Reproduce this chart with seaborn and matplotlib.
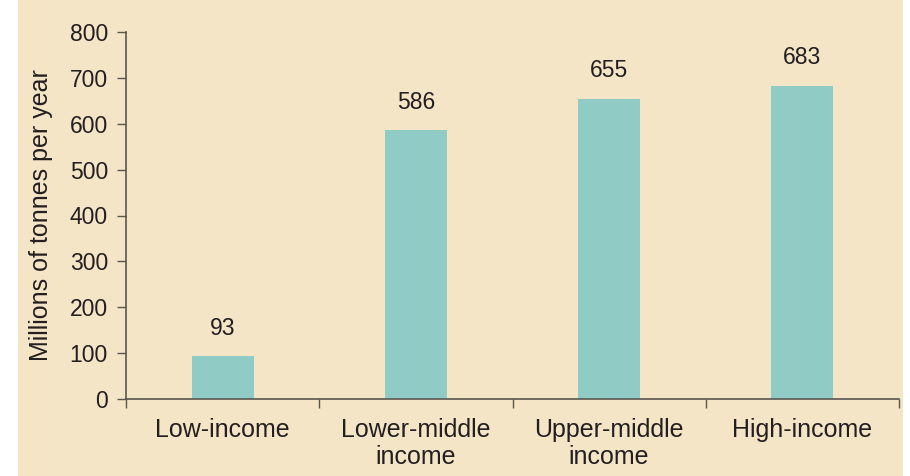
import matplotlib
matplotlib.use("Agg")
import matplotlib.pyplot as plt
import seaborn as sns
import pandas as pd
from matplotlib.patches import Rectangle

categories = ["Low-income", "Lower-middle\nincome", "Upper-middle\nincome", "High-income"]
values = [93, 586, 655, 683]
yticks = [0, 100, 200, 300, 400, 500, 600, 700, 800]

BG = "#F5E5C7"
BAR = "#91CBC6"
AX = "#5a5650"
TXT = "#231f20"

sns.set_theme(style="ticks")
plt.rcParams["font.family"] = ["Liberation Sans", "DejaVu Sans"]

fig = plt.figure(figsize=(9.1, 4.76), dpi=100)
fig.patch.set_facecolor("white")
fig.patches.append(Rectangle((18 / 910, 0), (903 - 18) / 910, 1, transform=fig.transFigure,
                             facecolor=BG, edgecolor="none", zorder=-10))
ax = fig.add_axes([126 / 910, 1 - 399 / 476, (899 - 126) / 910, (399 - 32) / 476])
ax.set_facecolor("none")

df = pd.DataFrame({"cat": categories, "val": values})
sns.barplot(data=df, x="cat", y="val", color=BAR, saturation=1, width=0.32, linewidth=0, ax=ax)

ax.set_xlim(-0.5, 3.5)
ax.set_ylim(0, 800)
ax.set_yticks(yticks)
ax.set_yticklabels([str(t) for t in yticks], fontsize=16.5, color=TXT)
ax.set_xticks(range(len(categories)))
ax.set_xticklabels(categories, fontsize=18, color=TXT, linespacing=1.15)
ax.tick_params(axis="x", length=0, pad=13.5)
ax.set_xticks([-0.5, 0.5, 1.5, 2.5, 3.5], minor=True)
ax.tick_params(axis="x", which="minor", length=6.5, width=1, color=AX, direction="out")
ax.tick_params(axis="y", length=6.5, width=1, color=AX, pad=6.5)

ax.set_xlabel("")
ax.set_ylabel("Millions of tonnes per year", fontsize=18, color=TXT, labelpad=12)

for s in ["top", "right"]:
    ax.spines[s].set_visible(False)
for s in ["left", "bottom"]:
    ax.spines[s].set_color(AX)
    ax.spines[s].set_linewidth(1.2)

for i, v in enumerate(values):
    ax.annotate(str(v), (i, v), xytext=(0, 12), textcoords="offset points",
                ha="center", va="bottom", fontsize=16.5, color=TXT)

fig.savefig("out.png", dpi=100, facecolor=fig.get_facecolor())
